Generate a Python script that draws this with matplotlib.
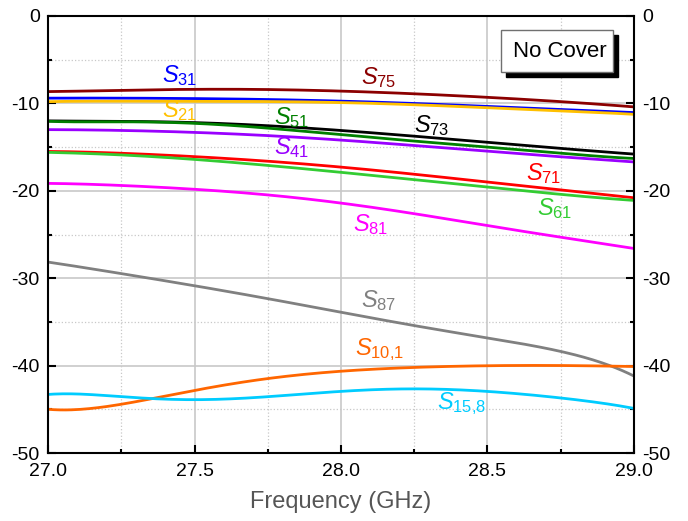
import matplotlib
matplotlib.use("Agg")
import matplotlib.pyplot as plt
from matplotlib.patches import Rectangle
from matplotlib.ticker import MultipleLocator, FormatStrFormatter
import numpy as np

plt.rcParams['font.family'] = ['Liberation Sans', 'DejaVu Sans']
plt.rcParams['mathtext.fontset'] = 'custom'
plt.rcParams['mathtext.rm'] = 'Liberation Sans'
plt.rcParams['mathtext.it'] = 'Liberation Sans:italic'
plt.rcParams['axes.unicode_minus'] = False

# frequenz-stuetzstellen (GHz)
freq = [27.0, 27.25, 27.5, 27.75, 28.0, 28.25, 28.5, 28.75, 29.0]

# S-parameter in dB
s75 = [-8.65, -8.5, -8.4, -8.4, -8.6, -8.9, -9.3, -9.8, -10.4]
s31 = [-9.4, -9.4, -9.45, -9.55, -9.75, -10.0, -10.35, -10.7, -11.05]
s21 = [-9.8, -9.75, -9.75, -9.8, -9.9, -10.15, -10.5, -10.85, -11.25]
s73 = [-12.0, -12.05, -12.2, -12.55, -13.1, -13.75, -14.45, -15.15, -15.8]
s51 = [-12.05, -12.1, -12.3, -12.8, -13.6, -14.3, -15.0, -15.7, -16.3]
s41 = [-13.0, -13.1, -13.3, -13.7, -14.2, -14.8, -15.5, -16.1, -16.7]
s71 = [-15.5, -15.7, -16.1, -16.6, -17.3, -18.1, -19.0, -19.9, -20.8]
s61 = [-15.6, -15.9, -16.4, -17.1, -17.9, -18.7, -19.6, -20.4, -21.1]
s81 = [-19.15, -19.4, -19.8, -20.5, -21.4, -22.6, -24.0, -25.3, -26.6]
s87 = [-28.15, -29.5, -30.8, -32.4, -33.9, -35.35, -36.9, -38.35, -41.2]
s10_1 = [-45.0, -44.4, -42.9, -41.4, -40.7, -40.2, -40.0, -40.0, -40.1]
s15_8 = [-43.3, -43.55, -43.9, -43.55, -42.96, -42.65, -42.96, -43.7, -44.9]

kurven = [
    (s75, '#8b0000', r'$\mathit{S}_{75}$', 28.13, -7.0),
    (s31, '#0000ff', r'$\mathit{S}_{31}$', 27.45, -6.8),
    (s21, '#ffc000', r'$\mathit{S}_{21}$', 27.45, -10.8),
    (s73, '#000000', r'$\mathit{S}_{73}$', 28.31, -12.5),
    (s51, '#008000', r'$\mathit{S}_{51}$', 27.83, -11.6),
    (s41, '#9900ff', r'$\mathit{S}_{41}$', 27.83, -15.0),
    (s71, '#ff0000', r'$\mathit{S}_{71}$', 28.69, -18.0),
    (s61, '#33cc33', r'$\mathit{S}_{61}$', 28.73, -22.0),
    (s81, '#ff00ff', r'$\mathit{S}_{81}$', 28.10, -23.9),
    (s87, '#808080', r'$\mathit{S}_{87}$', 28.13, -32.5),
    (s10_1, '#ff6600', r'$\mathit{S}_{10{,}1}$', 28.13, -38.2),
    (s15_8, '#00ccff', r'$\mathit{S}_{15{,}8}$', 28.41, -44.3),
]

fig = plt.figure(figsize=(6.88, 5.21), dpi=100)
ax = fig.add_axes([0.0698, 0.1305, 0.8517, 0.8388])

# glatte kurven durch die stuetzstellen
xf = np.linspace(27.0, 29.0, 200)
for werte, farbe, name, tx, ty in kurven:
    koeff = np.polyfit(freq, werte, 6)
    ax.plot(xf, np.polyval(koeff, xf), color=farbe, lw=2)
    ax.text(tx, ty, name, color=farbe, fontsize=17, ha='center', va='center')

ax.set_xlim(27.0, 29.0)
ax.set_ylim(-50, 0)
ax.xaxis.set_major_locator(MultipleLocator(0.5))
ax.xaxis.set_minor_locator(MultipleLocator(0.25))
ax.yaxis.set_major_locator(MultipleLocator(10))
ax.yaxis.set_minor_locator(MultipleLocator(5))
ax.xaxis.set_major_formatter(FormatStrFormatter('%.1f'))

ax.grid(which='major', color='#c8c8c8', lw=1.2, ls='-')
ax.grid(which='minor', color='#c8c8c8', lw=0.9, ls=':')
ax.set_axisbelow(True)

ax.tick_params(which='both', direction='in', right=True, labelright=True,
               labelsize=14, width=1.5)
ax.tick_params(which='major', length=6)
ax.tick_params(which='minor', length=3)
ax.tick_params(axis='x', pad=7)
ax.tick_params(axis='y', pad=6)
for sp in ax.spines.values():
    sp.set_linewidth(1.5)

ax.set_xlabel('Frequency (GHz)', fontsize=17, color='#555555', labelpad=8)

# kasten "No Cover" mit schatten
ax.add_patch(Rectangle((0.782, 0.860), 0.191, 0.096, transform=ax.transAxes,
                       facecolor='black', edgecolor='black', zorder=5))
ax.add_patch(Rectangle((0.773, 0.872), 0.191, 0.096, transform=ax.transAxes,
                       facecolor='white', edgecolor='#707070', lw=1, zorder=6))
ax.text(0.874, 0.919, 'No Cover', transform=ax.transAxes, fontsize=16,
        ha='center', va='center', zorder=7)

fig.savefig('out.png', dpi=100)
